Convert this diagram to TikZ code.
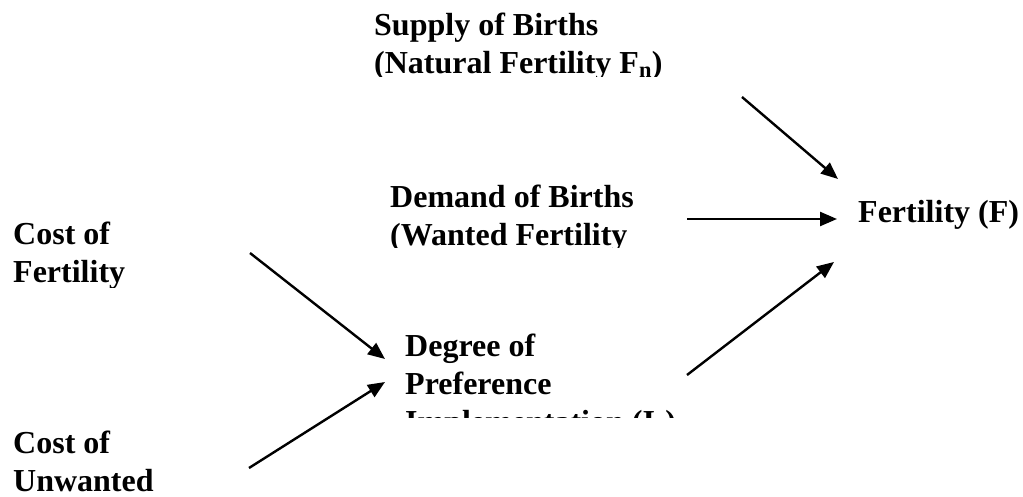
\documentclass[tikz,border=0pt]{standalone}
\usepackage{fontspec}
\setmainfont{Liberation Serif}
\usepackage{tikz}
\usetikzlibrary{arrows.meta}
\usetikzlibrary{positioning}

\begin{document}
\begin{tikzpicture}[x=1pt, y=-1pt,
  lbl/.style={inner sep=0pt, anchor=base west, align=left, font=\fontsize{32}{38}\selectfont\bfseries},
  arr/.style={line width=2.4pt, -{Triangle[length=17pt,width=14pt]}}]
\useasboundingbox (0,0) rectangle (1023,497);

% text boxes (cut at the bottom as in the original)
\begin{scope}
\clip (360,0) rectangle (740,77);
\node[lbl] (Supply) at (374,74) {Supply of Births\\(Natural Fertility F\textsubscript{n})};
\end{scope}

\begin{scope}
\clip (380,170) rectangle (700,248);
\node[lbl] (Demand) at (390,246) {Demand of Births\\(Wanted Fertility};
\end{scope}

\begin{scope}
\clip (395,320) rectangle (700,417);
\node[lbl] (Degree) at (405,432) {Degree of\\Preference\\Implementation (I\textsubscript{c})};
\end{scope}

\begin{scope}
\clip (0,210) rectangle (200,287);
\node[lbl] (CostFert) at (13,283) {Cost of\\Fertility};
\end{scope}

\node[lbl] (CostUnw) at (13,491) {Cost of\\Unwanted};
\node[lbl] (Fert) at (858,223) {Fertility (F)};

% arrows
\draw[arr] ([shift={(368,23)}]Supply.base west) -- ([shift={(-20,-44)}]Fert.base west);
\draw[arr] ([shift={(297,-27)}]Demand.base west) -- ([shift={(-21,-4)}]Fert.base west);
\draw[arr] ([shift={(282,-57)}]Degree.base west) -- ([shift={(-24,39)}]Fert.base west);
\draw[arr] ([shift={(237,-30)}]CostFert.base west) -- ([shift={(-20,-73)}]Degree.base west);
\draw[arr] ([shift={(236,-23)}]CostUnw.base west) -- ([shift={(-20,-50)}]Degree.base west);
\end{tikzpicture}
\end{document}
